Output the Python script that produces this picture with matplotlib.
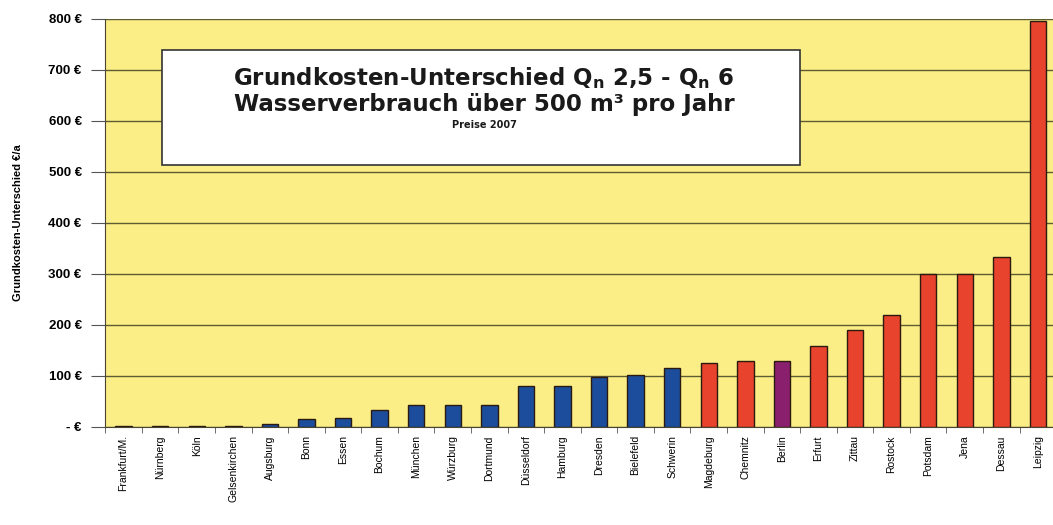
import numpy as np
import matplotlib.pyplot as plt
from matplotlib.ticker import FuncFormatter

# Grundkosten-Unterschied Qn 2,5 - Qn 6, Preise 2007
cities = ["Frankfurt/M.", "Nürnberg", "Köln", "Gelsenkirchen", "Augsburg", "Bonn", "Essen",
          "Bochum", "München", "Würzburg", "Dortmund", "Düsseldorf", "Hamburg", "Dresden",
          "Bielefeld", "Schwerin", "Magdeburg", "Chemnitz", "Berlin", "Erfurt", "Zittau",
          "Rostock", "Potsdam", "Jena", "Dessau", "Leipzig"]
values = [2, 2, 1, 1, 5, 16, 18, 33, 43, 43, 43, 80, 80, 98, 101, 116, 125, 130, 130,
          158, 190, 219, 299, 299, 333, 795]
# gruppe: w = west, o = ost, b = berlin
groups = ["w"] * 16 + ["o"] * 2 + ["b"] + ["o"] * 7

colors = {"w": "#1c4d9c", "o": "#e8432c", "b": "#8a1f6e"}
yticks = [0, 100, 200, 300, 400, 500, 600, 700, 800]

fig = plt.figure(figsize=(10.53, 5.25), dpi=100)
ax = fig.add_axes([0.1, 0.187, 0.903, 0.777])
ax.set_facecolor("#fcee86")

x = np.arange(len(cities))
ax.bar(x, values, width=0.45, color=[colors[g] for g in groups],
       edgecolor="#2a1a10", linewidth=1.0, zorder=3)

ax.set_xlim(-0.5, len(cities) - 0.5)
ax.set_ylim(0, 800)
ax.set_yticks(yticks)
ax.yaxis.set_major_formatter(FuncFormatter(lambda v, p: "- €" if v == 0 else "%d €" % v))
ax.grid(axis="y", color="#5e5a32", linewidth=1.0, zorder=1)
ax.set_axisbelow(True)

ax.set_xticks(x)
ax.set_xticklabels(cities, rotation=90, fontsize=7.5, family="Liberation Sans")
ax.tick_params(axis="x", length=0, pad=6)
ax.set_xticks(np.arange(-0.5, len(cities)), minor=True)
ax.tick_params(axis="x", which="minor", length=4, color="#555555")
ax.tick_params(axis="y", length=10, color="#555555", labelsize=9.5, pad=7)
for lab in ax.get_yticklabels():
    lab.set_fontweight("bold")
    lab.set_family("Liberation Sans")

for s in ["top", "right"]:
    ax.spines[s].set_visible(False)
ax.spines["left"].set_color("#4a4530")
ax.spines["bottom"].set_color("#4a4530")

ax.set_ylabel("Grundkosten-Unterschied €/a", fontsize=8, fontweight="bold",
              family="Liberation Sans", labelpad=18)

# Titelbox
box = plt.Rectangle((162 / 1053, 1 - 165 / 525), (800 - 162) / 1053, (165 - 50) / 525,
                    transform=fig.transFigure, facecolor="white", edgecolor="#333333",
                    linewidth=1.2, zorder=5)
fig.patches.append(box)
fig.text(484 / 1053, 1 - 78 / 525, r"Grundkosten-Unterschied Q$_\mathregular{n}$ 2,5 - Q$_\mathregular{n}$ 6",
         ha="center", va="center", fontsize=16.5, fontweight="bold", color="#1a1a1a", zorder=6)
fig.text(484 / 1053, 1 - 105 / 525, "Wasserverbrauch über 500 m³ pro Jahr",
         ha="center", va="center", fontsize=16.5, fontweight="bold", color="#1a1a1a", zorder=6)
fig.text(484 / 1053, 1 - 125 / 525, "Preise 2007",
         ha="center", va="center", fontsize=7, fontweight="bold", color="#1a1a1a", zorder=6)

fig.savefig("out.png", dpi=100)
